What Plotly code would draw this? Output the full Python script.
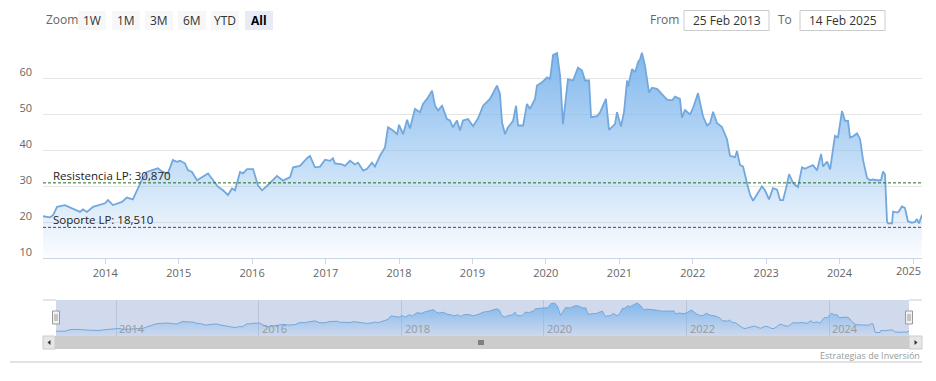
import plotly.graph_objects as go

# ---------------- data ----------------
dates = [
    "2013-02-25", "2013-04-01", "2013-04-16", "2013-05-06", "2013-06-14", "2013-07-19",
    "2013-08-28", "2013-09-12", "2013-10-02", "2013-11-01", "2013-12-06", "2013-12-30",
    "2014-01-14", "2014-02-08", "2014-03-25", "2014-04-18", "2014-05-18", "2014-06-12",
    "2014-07-01", "2014-07-26", "2014-08-20", "2014-09-19", "2014-10-14", "2014-11-08",
    "2014-12-03", "2014-12-23", "2015-01-07", "2015-02-01", "2015-02-16", "2015-03-08",
    "2015-04-02", "2015-04-27", "2015-05-27", "2015-06-21", "2015-07-15", "2015-08-09",
    "2015-09-03", "2015-09-23", "2015-10-08", "2015-11-02", "2015-11-17", "2015-12-07",
    "2016-01-06", "2016-01-30", "2016-02-19", "2016-03-15", "2016-04-09", "2016-05-04",
    "2016-06-03", "2016-07-08", "2016-07-23", "2016-08-26", "2016-10-05", "2016-10-15",
    "2016-11-09", "2016-12-04", "2016-12-29", "2017-01-23", "2017-02-06", "2017-02-16",
    "2017-03-23", "2017-04-07", "2017-05-02", "2017-05-27", "2017-06-11", "2017-07-06",
    "2017-07-26", "2017-08-19", "2017-09-03", "2017-09-28", "2017-10-23", "2017-11-07",
    "2017-12-02", "2017-12-22", "2018-01-01", "2018-01-21", "2018-02-10", "2018-02-24",
    "2018-03-21", "2018-04-15", "2018-04-30", "2018-05-20", "2018-06-14", "2018-06-29",
    "2018-07-14", "2018-08-03", "2018-08-27", "2018-09-11", "2018-09-26", "2018-10-16",
    "2018-10-31", "2018-11-15", "2018-12-10", "2019-01-04", "2019-01-29", "2019-02-23",
    "2019-03-29", "2019-05-03", "2019-05-18", "2019-05-28", "2019-06-12", "2019-06-27",
    "2019-07-22", "2019-08-06", "2019-08-16", "2019-09-10", "2019-09-29", "2019-10-14",
    "2019-11-08", "2019-11-18", "2019-12-13", "2020-01-07", "2020-01-22", "2020-02-06",
    "2020-02-26", "2020-03-12", "2020-03-26", "2020-04-20", "2020-05-15", "2020-06-09",
    "2020-06-29", "2020-07-14", "2020-08-03", "2020-08-13", "2020-09-12", "2020-09-27",
    "2020-10-26", "2020-11-10", "2020-12-10", "2020-12-20", "2021-01-09", "2021-01-24",
    "2021-02-08", "2021-02-13", "2021-03-05", "2021-03-20", "2021-04-04", "2021-04-14",
    "2021-04-23", "2021-05-08", "2021-05-28", "2021-06-12", "2021-07-07", "2021-08-01",
    "2021-08-26", "2021-09-20", "2021-10-05", "2021-10-29", "2021-11-08", "2021-11-23",
    "2021-12-18", "2022-01-02", "2022-01-27", "2022-02-21", "2022-03-13", "2022-03-28",
    "2022-04-12", "2022-05-01", "2022-05-26", "2022-06-20", "2022-07-05", "2022-07-30",
    "2022-08-09", "2022-08-24", "2022-09-08", "2022-09-28", "2022-10-13", "2022-10-28",
    "2022-11-16", "2022-12-11", "2022-12-26", "2023-01-15", "2023-02-04", "2023-02-24",
    "2023-03-11", "2023-03-26", "2023-04-10", "2023-04-25", "2023-05-15", "2023-06-08",
    "2023-06-28", "2023-07-13", "2023-07-28", "2023-08-22", "2023-09-11", "2023-10-01",
    "2023-10-11", "2023-10-31", "2023-11-15", "2023-12-09", "2023-12-24", "2024-01-13",
    "2024-01-28", "2024-02-12", "2024-02-22", "2024-03-08", "2024-03-28", "2024-04-12",
    "2024-04-27", "2024-05-17", "2024-05-31", "2024-06-15", "2024-07-05", "2024-07-25",
    "2024-08-04", "2024-08-14", "2024-08-24", "2024-08-29", "2024-09-18", "2024-09-23",
    "2024-10-13", "2024-10-22", "2024-11-06", "2024-11-21", "2024-12-06", "2024-12-26",
    "2025-01-10", "2025-01-20", "2025-01-30", "2025-02-14",
]
prices = [
    21.6, 21.3, 21.9, 24.2, 24.7, 23.8,
    22.8, 23.5, 22.8, 24.2, 24.7, 25.2,
    26.1, 24.7, 25.6, 26.8, 26.3, 29.3,
    31.6, 33.9, 34.4, 34.9, 33.9, 33.5,
    37.2, 36.7, 37.0, 36.3, 34.4, 33.9,
    31.6, 32.5, 33.5, 31.6, 29.8, 28.8,
    27.5, 29.3, 28.8, 33.9, 33.5, 34.7,
    34.7, 30.2, 28.8, 30.0, 31.5, 32.8,
    31.5, 32.5, 35.2, 35.6, 38.0, 38.3,
    35.2, 35.4, 37.3, 37.0, 37.7, 36.3,
    36.0, 35.6, 37.0, 36.0, 36.5, 34.3,
    34.8, 36.5, 35.4, 38.4, 40.7, 46.3,
    45.4, 44.4, 47.0, 44.4, 48.4, 46.0,
    51.4, 50.5, 52.8, 54.2, 56.5, 52.3,
    51.0, 52.3, 48.6, 48.2, 46.3, 48.2,
    45.4, 48.2, 48.6, 46.6, 48.8, 52.3,
    54.2, 57.9, 55.6, 47.7, 44.4, 46.3,
    48.1, 52.3, 46.8, 46.8, 52.8, 51.4,
    54.2, 57.9, 58.8, 60.2, 59.7, 66.4,
    66.9, 60.6, 47.2, 59.7, 59.3, 62.9,
    62.1, 59.3, 59.3, 49.1, 49.4, 50.5,
    54.2, 45.6, 47.2, 50.5, 46.5, 50.6,
    59.3, 57.6, 62.5, 61.6, 64.4, 65.3,
    67.0, 63.5, 56.0, 57.3, 57.0, 55.6,
    54.0, 53.8, 54.8, 54.2, 49.0, 51.1,
    49.9, 51.6, 55.8, 49.3, 46.8, 47.5,
    50.6, 47.5, 46.4, 43.0, 38.4, 38.0,
    39.7, 35.8, 35.4, 30.7, 27.5, 25.9,
    27.5, 29.9, 28.8, 26.3, 29.4, 29.0,
    26.1, 26.1, 29.4, 33.3, 30.8, 29.7,
    35.2, 34.8, 35.2, 35.8, 34.3, 38.9,
    35.4, 36.8, 34.6, 43.9, 43.5, 50.8,
    48.1, 48.1, 43.5, 43.8, 44.6, 43.0,
    37.2, 32.2, 31.6, 31.8, 31.6, 31.6,
    34.0, 33.2, 20.2, 19.6, 19.6, 22.9,
    22.6, 22.9, 24.3, 23.9, 20.2, 19.8,
    20.0, 20.8, 19.6, 22.0,
]
resistance = 30.87
support = 18.51
resistance_label = "Resistencia LP: 30,870"
support_label = "Soporte LP: 18,510"
y_ticks = [10, 20, 30, 40, 50, 60, 70]
y_ticktext = ["10", "20", "30", "40", "50", "60", ""]
year_ticks = [str(y) for y in range(2014, 2026)]
nav_ticks = ["2014", "2016", "2018", "2020", "2022", "2024"]
zoom_buttons = ["1W", "1M", "3M", "6M", "YTD", "All"]
selected_button = "All"
range_from = "25 Feb 2013"
range_to = "14 Feb 2025"
credit = "Estrategias de Inversión"
start_date, end_date = "2013-02-25", "2025-02-14"

# ---------------- layout helpers (window pixels -> paper) ----------------
# the page body keeps an 8px margin; the figure is kept a bit smaller than the window
OFF = 8
W, H = 918, 357
def px(x):
    return (x - OFF) / W
def py(y):
    return 1 - (y - OFF) / H

FONT = "Open Sans, Lato, DejaVu Sans, sans-serif"
LINE = "#72a8dd"
BLUE = "124,181,236"

fig = go.Figure()

# main series
fig.add_trace(go.Scatter(
    x=dates, y=prices, mode="lines", xaxis="x", yaxis="y",
    line=dict(color=LINE, width=1.8), fill="tozeroy",
    fillgradient=dict(type="vertical", start=10, stop=70,
                      colorscale=[[0, f"rgba({BLUE},0.03)"], [1, f"rgba({BLUE},1)"]]),
    hoverinfo="x+y", showlegend=False,
))
# navigator series
fig.add_trace(go.Scatter(
    x=dates, y=prices, mode="lines", xaxis="x2", yaxis="y2",
    line=dict(color=LINE, width=1), fill="tozeroy",
    fillgradient=dict(type="vertical", start=14, stop=72,
                      colorscale=[[0, f"rgba({BLUE},0.05)"], [1, f"rgba({BLUE},1)"]]),
    hoverinfo="skip", showlegend=False,
))

shapes = []
annotations = []

# support / resistance lines
for val, col, lab in [(resistance, "#1e6e1e", resistance_label), (support, "#9a1f45", support_label)]:
    shapes.append(dict(type="line", xref="paper", yref="y", x0=px(43), x1=px(922), y0=val, y1=val,
                       line=dict(color=col, width=1, dash="3px,2px"), layer="above"))
    annotations.append(dict(xref="paper", yref="y", x=px(51), y=val, text=lab, showarrow=False,
                            xanchor="left", yanchor="bottom", yshift=-2,
                            font=dict(family=FONT, size=11.5, color="#222222")))

# last year label is pulled inside the plot edge, as in the original
last_year = year_ticks[-1]
main_ticktext = year_ticks[:-1] + [""]
annotations.append(dict(xref="paper", yref="paper", x=px(908), y=py(270.5), text=last_year, showarrow=False,
                        xanchor="center", yanchor="middle",
                        font=dict(family=FONT, size=11, color="#666666")))

# navigator mask, outline, scrollbar, handles
shapes.append(dict(type="rect", xref="paper", yref="paper", x0=px(56), x1=px(909), y0=py(336), y1=py(300),
                   fillcolor="rgba(102,133,194,0.3)", line=dict(width=0), layer="below"))
for a, b in [(43, 56), (909, 922)]:
    shapes.append(dict(type="line", xref="paper", yref="paper", x0=px(a), x1=px(b), y0=py(300), y1=py(300),
                       line=dict(color="#cccccc", width=1)))
# scrollbar
shapes.append(dict(type="rect", xref="paper", yref="paper", x0=px(43), x1=px(922), y0=py(349), y1=py(336),
                   fillcolor="#cccccc", line=dict(width=0)))
for a, b in [(43, 55), (909, 922)]:
    shapes.append(dict(type="rect", xref="paper", yref="paper", x0=px(a), x1=px(b), y0=py(349), y1=py(336),
                       fillcolor="#e6e6e6", line=dict(color="#cccccc", width=1)))
# arrows
shapes.append(dict(type="path", xref="paper", yref="paper",
                   path=f"M {px(47.5)} {py(342.5)} L {px(50.5)} {py(340)} L {px(50.5)} {py(345)} Z",
                   fillcolor="#333333", line=dict(width=0)))
shapes.append(dict(type="path", xref="paper", yref="paper",
                   path=f"M {px(917.5)} {py(342.5)} L {px(914.5)} {py(340)} L {px(914.5)} {py(345)} Z",
                   fillcolor="#333333", line=dict(width=0)))
# grip
for gx in [479, 481, 483]:
    shapes.append(dict(type="line", xref="paper", yref="paper", x0=px(gx), x1=px(gx), y0=py(340), y1=py(345),
                       line=dict(color="#333333", width=1)))
# handles
for hx in [56, 909]:
    shapes.append(dict(type="rect", xref="paper", yref="paper", x0=px(hx - 3.5), x1=px(hx + 3.5),
                       y0=py(324), y1=py(311), fillcolor="#f2f2f2", line=dict(color="#999999", width=1)))
    for d in (-1, 1):
        shapes.append(dict(type="line", xref="paper", yref="paper", x0=px(hx + d), x1=px(hx + d),
                           y0=py(321), y1=py(314), line=dict(color="#999999", width=1)))
# navigator labels
for t in nav_ticks:
    annotations.append(dict(xref="x2", yref="paper", x=f"{t}-01-01", y=py(328), text=t, showarrow=False,
                            xanchor="left", yanchor="middle", xshift=1,
                            font=dict(family=FONT, size=11, color="#999999")))

# credit + bottom rule
annotations.append(dict(xref="paper", yref="paper", x=px(922), y=py(355), text=credit, showarrow=False,
                        xanchor="right", yanchor="middle", font=dict(family=FONT, size=9, color="#999999")))
shapes.append(dict(type="line", xref="paper", yref="paper", x0=px(10), x1=px(922), y0=py(362), y1=py(362),
                   line=dict(color="#d9d9d9", width=1.5)))

# range selector
annotations.append(dict(xref="paper", yref="paper", x=px(44), y=py(20), text="Zoom", showarrow=False,
                        xanchor="left", yanchor="middle", font=dict(family=FONT, size=12, color="#666666")))
btn_x = [78, 112, 145, 178, 211, 245]
for bx, lab in zip(btn_x, zoom_buttons):
    sel = lab == selected_button
    shapes.append(dict(type="rect", xref="paper", yref="paper", x0=px(bx), x1=px(bx + 28), y0=py(30), y1=py(11),
                       fillcolor="#e6ebf5" if sel else "#f7f7f7", line=dict(width=0)))
    annotations.append(dict(xref="paper", yref="paper", x=px(bx + 14), y=py(20.5),
                            text=f"<b>{lab}</b>" if sel else lab, showarrow=False,
                            xanchor="center", yanchor="middle",
                            font=dict(family=FONT, size=12, color="#000000" if sel else "#333333")))
# from / to
annotations.append(dict(xref="paper", yref="paper", x=px(664), y=py(20), text="From", showarrow=False,
                        xanchor="center", yanchor="middle", font=dict(family=FONT, size=12, color="#666666")))
annotations.append(dict(xref="paper", yref="paper", x=px(785), y=py(20), text="To", showarrow=False,
                        xanchor="center", yanchor="middle", font=dict(family=FONT, size=12, color="#666666")))
for x0, x1, txt in [(684, 769, range_from), (800, 885, range_to)]:
    shapes.append(dict(type="rect", xref="paper", yref="paper", x0=px(x0), x1=px(x1), y0=py(30.5), y1=py(10.5),
                       fillcolor="white", line=dict(color="#cccccc", width=1)))
    annotations.append(dict(xref="paper", yref="paper", x=px((x0 + x1) / 2), y=py(20.5), text=txt,
                            showarrow=False, xanchor="center", yanchor="middle",
                            font=dict(family=FONT, size=12, color="#333333")))

fig.update_layout(
    width=W, height=H, autosize=False,
    margin=dict(l=0, r=0, t=0, b=0),
    paper_bgcolor="white", plot_bgcolor="white",
    font=dict(family=FONT, size=11, color="#666666"),
    showlegend=False,
    xaxis=dict(domain=[px(43), px(922)], type="date", range=[start_date, end_date],
               tickvals=[f"{y}-01-01" for y in year_ticks], ticktext=main_ticktext,
               showgrid=False, zeroline=False, showline=True, linecolor="#ccd6eb", linewidth=1,
               ticks="outside", ticklen=5, tickcolor="#ccd6eb",
               tickfont=dict(family=FONT, size=11, color="#666666"), anchor="y"),
    yaxis=dict(domain=[py(258), py(42)], range=[10, 70], tickvals=y_ticks, ticktext=y_ticktext,
               showgrid=True, gridcolor="#e6e6e6", gridwidth=1, zeroline=False, showline=False,
               ticks="", ticklabelshift=-6, ticklabelstandoff=10,
               tickfont=dict(family=FONT, size=11, color="#666666"), anchor="x"),
    xaxis2=dict(domain=[px(56), px(909)], type="date", range=[start_date, end_date],
                tickvals=[f"{t}-01-01" for t in nav_ticks], showticklabels=False, ticks="",
                showgrid=True, gridcolor="rgba(120,130,150,0.25)", zeroline=False, showline=False,
                anchor="y2"),
    yaxis2=dict(domain=[py(336), py(300)], range=[14, 72], visible=False, showgrid=False,
                zeroline=False, anchor="x2"),
    shapes=shapes, annotations=annotations,
)

fig.write_html("out.html")
